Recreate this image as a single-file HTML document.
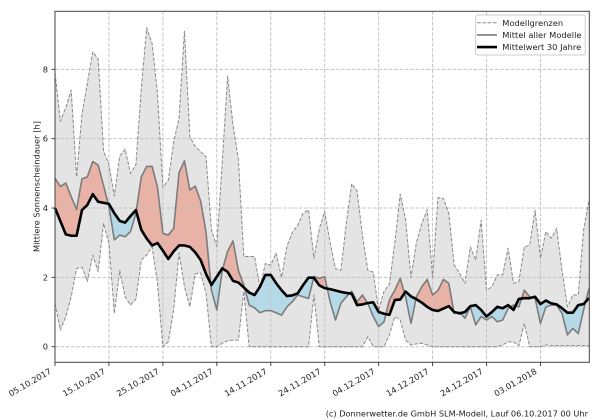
<!DOCTYPE html>
<html><head><meta charset="utf-8"><style>
html,body{margin:0;padding:0;background:#fff;}
svg{display:block;}
text{font-family:"DejaVu Sans","Liberation Sans",sans-serif;fill:#222;}
</style></head><body>
<svg width="600" height="420" viewBox="0 0 600 420" xmlns="http://www.w3.org/2000/svg">
<defs>
<clipPath id="aboveB" clipPathUnits="userSpaceOnUse"><polygon points="0,4.0 1,3.62 2,3.24 3,3.2 4,3.2 5,3.94 6,4.09 7,4.4 8,4.18 9,4.15 10,4.12 11,3.85 12,3.63 13,3.58 14,3.77 15,3.94 16,3.37 17,3.12 18,2.92 19,2.99 20,2.77 21,2.53 22,2.75 23,2.92 24,2.92 25,2.88 26,2.72 27,2.5 28,2.1 29,1.78 30,2.02 31,2.26 32,2.16 33,1.9 34,1.85 35,1.71 36,1.56 37,1.49 38,1.73 39,2.07 40,2.07 41,1.83 42,1.63 43,1.46 44,1.48 45,1.54 46,1.78 47,1.99 48,1.99 49,1.77 50,1.69 51,1.66 52,1.62 53,1.58 54,1.55 55,1.53 56,1.2 57,1.22 58,1.26 59,1.28 60,1.0 61,0.95 62,0.92 63,1.35 64,1.36 65,1.59 66,1.45 67,1.37 68,1.27 69,1.15 70,1.06 71,1.03 72,1.1 73,1.17 74,1.0 75,0.96 76,1.0 77,1.17 78,1.2 79,1.06 80,0.87 81,1.0 82,1.15 83,1.11 84,1.2 85,1.06 86,1.38 87,1.4 88,1.4 89,1.44 90,1.23 91,1.33 92,1.25 93,1.22 94,1.11 95,0.98 96,0.98 97,1.2 98,1.23 99,1.4 99,12 0,12"/></clipPath>
<clipPath id="belowB" clipPathUnits="userSpaceOnUse"><polygon points="0,4.0 1,3.62 2,3.24 3,3.2 4,3.2 5,3.94 6,4.09 7,4.4 8,4.18 9,4.15 10,4.12 11,3.85 12,3.63 13,3.58 14,3.77 15,3.94 16,3.37 17,3.12 18,2.92 19,2.99 20,2.77 21,2.53 22,2.75 23,2.92 24,2.92 25,2.88 26,2.72 27,2.5 28,2.1 29,1.78 30,2.02 31,2.26 32,2.16 33,1.9 34,1.85 35,1.71 36,1.56 37,1.49 38,1.73 39,2.07 40,2.07 41,1.83 42,1.63 43,1.46 44,1.48 45,1.54 46,1.78 47,1.99 48,1.99 49,1.77 50,1.69 51,1.66 52,1.62 53,1.58 54,1.55 55,1.53 56,1.2 57,1.22 58,1.26 59,1.28 60,1.0 61,0.95 62,0.92 63,1.35 64,1.36 65,1.59 66,1.45 67,1.37 68,1.27 69,1.15 70,1.06 71,1.03 72,1.1 73,1.17 74,1.0 75,0.96 76,1.0 77,1.17 78,1.2 79,1.06 80,0.87 81,1.0 82,1.15 83,1.11 84,1.2 85,1.06 86,1.38 87,1.4 88,1.4 89,1.44 90,1.23 91,1.33 92,1.25 93,1.22 94,1.11 95,0.98 96,0.98 97,1.2 98,1.23 99,1.4 99,-2 0,-2"/></clipPath>
</defs>

<g transform="translate(55,346.7) scale(5.394,-34.67)">
<polygon fill="#e4e4e4" stroke="none" points="0,7.9 1,6.5 2,6.9 3,7.4 4,4.9 5,6.7 6,7.6 7,8.5 8,8.3 9,5.65 10,5.25 11,4.35 12,5.5 13,5.7 14,5.0 15,5.25 16,7.45 17,9.2 18,8.75 19,7.3 20,4.6 21,4.8 22,5.9 23,6.6 24,9.1 25,6.06 26,5.77 27,5.63 28,5.48 29,3.37 30,2.9 31,5.3 32,7.8 33,6.4 34,5.4 35,2.6 36,2.6 37,2.6 38,1.7 39,2.4 40,2.35 41,2.7 42,2.0 43,2.9 44,3.3 45,3.5 46,3.85 47,3.95 48,2.55 49,3.4 50,3.9 51,3.0 52,2.25 53,2.2 54,3.55 55,4.7 56,4.5 57,3.2 58,2.2 59,2.15 60,1.05 61,1.6 62,1.8 63,3.0 64,4.4 65,3.65 66,2.0 67,3.0 68,3.55 69,3.95 70,2.0 71,4.3 72,4.28 73,3.85 74,2.36 75,2.12 76,1.83 77,2.88 78,2.5 79,3.65 80,1.63 81,1.73 82,2.07 83,2.07 84,2.84 85,1.83 86,1.88 87,2.88 88,2.93 89,3.94 90,2.55 91,3.32 92,3.13 93,3.41 94,2.2 95,1.15 96,1.49 97,1.49 98,3.37 99,4.23 99,0.03 98,0.03 97,0.03 96,0.03 95,0.03 94,0.03 93,0.03 92,0.03 91,0.05 90,0 89,0 88,0 87,0.67 86,0.03 85,0.14 84,0.14 83,0.05 82,0 81,0 80,0 79,0 78,0 77,0 76,0 75,0 74,0 73,0 72,0 71,0 70,0 69,0.05 68,0.1 67,0.08 66,0.05 65,0.19 64,0.77 63,0.87 62,0.34 61,0 60,0 59,0 58,0.29 57,0 56,0 55,0 54,0 53,0 52,0 51,0 50,0 49,0 48,1.5 47,0 46,0 45,0 44,0 43,0 42,0 41,0 40,0 39,0 38,0 37,0 36,0 35,1.6 34,0.19 33,0.19 32,0.17 31,0.1 30,0 29,0 28,1.54 27,2.13 26,2.1 25,1.15 24,1.73 23,2.7 22,1.06 21,0.14 20,0 19,1.83 18,2.88 17,2.64 16,2.5 15,1.37 14,1.2 13,1.44 12,2.2 11,0.96 10,2.98 9,3.56 8,2.16 7,2.64 6,1.88 5,2.29 4,2.26 3,1.44 2,0.87 1,0.48 0,1.25"/>
<polygon fill="#e8b2a6" clip-path="url(#aboveB)" points="0,4.86 1,4.62 2,4.72 3,4.33 4,3.96 5,4.84 6,4.9 7,5.34 8,5.24 9,4.65 10,4.04 11,3.08 12,3.22 13,3.17 14,3.32 15,3.85 16,4.9 17,5.2 18,5.2 19,4.6 20,3.27 21,3.22 22,3.41 23,5.02 24,5.36 25,4.52 26,4.63 27,4.2 28,3.3 29,1.63 30,1.06 31,2.2 32,2.75 33,3.05 34,2.2 35,1.78 36,1.2 37,1.12 38,0.98 39,1.04 40,1.04 41,0.98 42,0.91 43,1.15 44,1.3 45,1.49 46,1.44 47,1.39 48,2.02 49,1.97 50,2.02 51,1.3 52,0.77 53,1.25 54,1.44 55,1.6 56,1.3 57,1.49 58,1.25 59,0.87 60,0.58 61,0.72 62,1.35 63,1.63 64,1.97 65,1.44 66,0.67 67,1.44 68,1.73 69,1.94 70,1.49 71,1.62 72,1.94 73,1.83 74,0.96 75,1.0 76,0.82 77,1.15 78,0.63 79,0.87 80,0.77 81,0.87 82,0.72 83,0.77 84,1.1 85,1.2 86,1.15 87,1.63 88,1.44 89,1.4 90,0.67 91,1.15 92,1.2 93,1.2 94,0.96 95,0.34 96,0.53 97,0.38 98,1.06 99,1.68 99,-2 0,-2"/>
<polygon fill="#b6d9e8" clip-path="url(#belowB)" points="0,4.86 1,4.62 2,4.72 3,4.33 4,3.96 5,4.84 6,4.9 7,5.34 8,5.24 9,4.65 10,4.04 11,3.08 12,3.22 13,3.17 14,3.32 15,3.85 16,4.9 17,5.2 18,5.2 19,4.6 20,3.27 21,3.22 22,3.41 23,5.02 24,5.36 25,4.52 26,4.63 27,4.2 28,3.3 29,1.63 30,1.06 31,2.2 32,2.75 33,3.05 34,2.2 35,1.78 36,1.2 37,1.12 38,0.98 39,1.04 40,1.04 41,0.98 42,0.91 43,1.15 44,1.3 45,1.49 46,1.44 47,1.39 48,2.02 49,1.97 50,2.02 51,1.3 52,0.77 53,1.25 54,1.44 55,1.6 56,1.3 57,1.49 58,1.25 59,0.87 60,0.58 61,0.72 62,1.35 63,1.63 64,1.97 65,1.44 66,0.67 67,1.44 68,1.73 69,1.94 70,1.49 71,1.62 72,1.94 73,1.83 74,0.96 75,1.0 76,0.82 77,1.15 78,0.63 79,0.87 80,0.77 81,0.87 82,0.72 83,0.77 84,1.1 85,1.2 86,1.15 87,1.63 88,1.44 89,1.4 90,0.67 91,1.15 92,1.2 93,1.2 94,0.96 95,0.34 96,0.53 97,0.38 98,1.06 99,1.68 99,12 0,12"/>
</g>

<g stroke="#c4c4c4" stroke-width="1" stroke-dasharray="3.7,1.6" fill="none">
<line x1="108.94" y1="11" x2="108.94" y2="362"/>
<line x1="162.88" y1="11" x2="162.88" y2="362"/>
<line x1="216.82" y1="11" x2="216.82" y2="362"/>
<line x1="270.76" y1="11" x2="270.76" y2="362"/>
<line x1="324.7" y1="11" x2="324.7" y2="362"/>
<line x1="378.64" y1="11" x2="378.64" y2="362"/>
<line x1="432.58" y1="11" x2="432.58" y2="362"/>
<line x1="486.52" y1="11" x2="486.52" y2="362"/>
<line x1="540.46" y1="11" x2="540.46" y2="362"/>
<line x1="55" y1="346.7" x2="589" y2="346.7"/>
<line x1="55" y1="277.36" x2="589" y2="277.36"/>
<line x1="55" y1="208.02" x2="589" y2="208.02"/>
<line x1="55" y1="138.68" x2="589" y2="138.68"/>
<line x1="55" y1="69.34" x2="589" y2="69.34"/>
</g>

<g transform="translate(55,346.7) scale(5.394,-34.67)" fill="none" stroke-linejoin="round">
<polyline vector-effect="non-scaling-stroke" stroke="#8a8a8a" stroke-width="1" stroke-dasharray="3.7,1.6" points="0,7.9 1,6.5 2,6.9 3,7.4 4,4.9 5,6.7 6,7.6 7,8.5 8,8.3 9,5.65 10,5.25 11,4.35 12,5.5 13,5.7 14,5.0 15,5.25 16,7.45 17,9.2 18,8.75 19,7.3 20,4.6 21,4.8 22,5.9 23,6.6 24,9.1 25,6.06 26,5.77 27,5.63 28,5.48 29,3.37 30,2.9 31,5.3 32,7.8 33,6.4 34,5.4 35,2.6 36,2.6 37,2.6 38,1.7 39,2.4 40,2.35 41,2.7 42,2.0 43,2.9 44,3.3 45,3.5 46,3.85 47,3.95 48,2.55 49,3.4 50,3.9 51,3.0 52,2.25 53,2.2 54,3.55 55,4.7 56,4.5 57,3.2 58,2.2 59,2.15 60,1.05 61,1.6 62,1.8 63,3.0 64,4.4 65,3.65 66,2.0 67,3.0 68,3.55 69,3.95 70,2.0 71,4.3 72,4.28 73,3.85 74,2.36 75,2.12 76,1.83 77,2.88 78,2.5 79,3.65 80,1.63 81,1.73 82,2.07 83,2.07 84,2.84 85,1.83 86,1.88 87,2.88 88,2.93 89,3.94 90,2.55 91,3.32 92,3.13 93,3.41 94,2.2 95,1.15 96,1.49 97,1.49 98,3.37 99,4.23"/>
<polyline vector-effect="non-scaling-stroke" stroke="#8a8a8a" stroke-width="1" stroke-dasharray="3.7,1.6" points="0,1.25 1,0.48 2,0.87 3,1.44 4,2.26 5,2.29 6,1.88 7,2.64 8,2.16 9,3.56 10,2.98 11,0.96 12,2.2 13,1.44 14,1.2 15,1.37 16,2.5 17,2.64 18,2.88 19,1.83 20,0 21,0.14 22,1.06 23,2.7 24,1.73 25,1.15 26,2.1 27,2.13 28,1.54 29,0 30,0 31,0.1 32,0.17 33,0.19 34,0.19 35,1.6 36,0 37,0 38,0 39,0 40,0 41,0 42,0 43,0 44,0 45,0 46,0 47,0 48,1.5 49,0 50,0 51,0 52,0 53,0 54,0 55,0 56,0 57,0 58,0.29 59,0 60,0 61,0 62,0.34 63,0.87 64,0.77 65,0.19 66,0.05 67,0.08 68,0.1 69,0.05 70,0 71,0 72,0 73,0 74,0 75,0 76,0 77,0 78,0 79,0 80,0 81,0 82,0 83,0.05 84,0.14 85,0.14 86,0.03 87,0.67 88,0 89,0 90,0 91,0.05 92,0.03 93,0.03 94,0.03 95,0.03 96,0.03 97,0.03 98,0.03 99,0.03"/>
<polyline vector-effect="non-scaling-stroke" stroke="#7c7c7c" stroke-width="1.6" points="0,4.86 1,4.62 2,4.72 3,4.33 4,3.96 5,4.84 6,4.9 7,5.34 8,5.24 9,4.65 10,4.04 11,3.08 12,3.22 13,3.17 14,3.32 15,3.85 16,4.9 17,5.2 18,5.2 19,4.6 20,3.27 21,3.22 22,3.41 23,5.02 24,5.36 25,4.52 26,4.63 27,4.2 28,3.3 29,1.63 30,1.06 31,2.2 32,2.75 33,3.05 34,2.2 35,1.78 36,1.2 37,1.12 38,0.98 39,1.04 40,1.04 41,0.98 42,0.91 43,1.15 44,1.3 45,1.49 46,1.44 47,1.39 48,2.02 49,1.97 50,2.02 51,1.3 52,0.77 53,1.25 54,1.44 55,1.6 56,1.3 57,1.49 58,1.25 59,0.87 60,0.58 61,0.72 62,1.35 63,1.63 64,1.97 65,1.44 66,0.67 67,1.44 68,1.73 69,1.94 70,1.49 71,1.62 72,1.94 73,1.83 74,0.96 75,1.0 76,0.82 77,1.15 78,0.63 79,0.87 80,0.77 81,0.87 82,0.72 83,0.77 84,1.1 85,1.2 86,1.15 87,1.63 88,1.44 89,1.4 90,0.67 91,1.15 92,1.2 93,1.2 94,0.96 95,0.34 96,0.53 97,0.38 98,1.06 99,1.68"/>
<polyline vector-effect="non-scaling-stroke" stroke="#000" stroke-width="2.6" points="0,4.0 1,3.62 2,3.24 3,3.2 4,3.2 5,3.94 6,4.09 7,4.4 8,4.18 9,4.15 10,4.12 11,3.85 12,3.63 13,3.58 14,3.77 15,3.94 16,3.37 17,3.12 18,2.92 19,2.99 20,2.77 21,2.53 22,2.75 23,2.92 24,2.92 25,2.88 26,2.72 27,2.5 28,2.1 29,1.78 30,2.02 31,2.26 32,2.16 33,1.9 34,1.85 35,1.71 36,1.56 37,1.49 38,1.73 39,2.07 40,2.07 41,1.83 42,1.63 43,1.46 44,1.48 45,1.54 46,1.78 47,1.99 48,1.99 49,1.77 50,1.69 51,1.66 52,1.62 53,1.58 54,1.55 55,1.53 56,1.2 57,1.22 58,1.26 59,1.28 60,1.0 61,0.95 62,0.92 63,1.35 64,1.36 65,1.59 66,1.45 67,1.37 68,1.27 69,1.15 70,1.06 71,1.03 72,1.1 73,1.17 74,1.0 75,0.96 76,1.0 77,1.17 78,1.2 79,1.06 80,0.87 81,1.0 82,1.15 83,1.11 84,1.2 85,1.06 86,1.38 87,1.4 88,1.4 89,1.44 90,1.23 91,1.33 92,1.25 93,1.22 94,1.11 95,0.98 96,0.98 97,1.2 98,1.23 99,1.4"/>
</g>

<rect x="55" y="11.3" width="534.3" height="351" fill="none" stroke="#444" stroke-width="1"/>

<g stroke="#444" stroke-width="1">
<line x1="51.5" y1="346.7" x2="55" y2="346.7"/>
<line x1="51.5" y1="277.36" x2="55" y2="277.36"/>
<line x1="51.5" y1="208.02" x2="55" y2="208.02"/>
<line x1="51.5" y1="138.68" x2="55" y2="138.68"/>
<line x1="51.5" y1="69.34" x2="55" y2="69.34"/>
<line x1="55" y1="362.3" x2="55" y2="366"/>
<line x1="108.94" y1="362.3" x2="108.94" y2="366"/>
<line x1="162.88" y1="362.3" x2="162.88" y2="366"/>
<line x1="216.82" y1="362.3" x2="216.82" y2="366"/>
<line x1="270.76" y1="362.3" x2="270.76" y2="366"/>
<line x1="324.7" y1="362.3" x2="324.7" y2="366"/>
<line x1="378.64" y1="362.3" x2="378.64" y2="366"/>
<line x1="432.58" y1="362.3" x2="432.58" y2="366"/>
<line x1="486.52" y1="362.3" x2="486.52" y2="366"/>
<line x1="540.46" y1="362.3" x2="540.46" y2="366"/>
</g>

<g font-size="8.3" text-anchor="end">
<text x="48" y="349.7">0</text>
<text x="48" y="280.4">2</text>
<text x="48" y="211">4</text>
<text x="48" y="141.7">6</text>
<text x="48" y="72.3">8</text>
</g>

<g font-size="8.3" text-anchor="end">
<text transform="translate(52,373) rotate(-30)">05.10.2017</text>
<text transform="translate(105.94,373) rotate(-30)">15.10.2017</text>
<text transform="translate(159.88,373) rotate(-30)">25.10.2017</text>
<text transform="translate(213.82,373) rotate(-30)">04.11.2017</text>
<text transform="translate(267.76,373) rotate(-30)">14.11.2017</text>
<text transform="translate(321.7,373) rotate(-30)">24.11.2017</text>
<text transform="translate(375.64,373) rotate(-30)">04.12.2017</text>
<text transform="translate(429.58,373) rotate(-30)">14.12.2017</text>
<text transform="translate(483.52,373) rotate(-30)">24.12.2017</text>
<text transform="translate(537.46,373) rotate(-30)">03.01.2018</text>
</g>

<text font-size="8.3" text-anchor="middle" transform="translate(39.5,186.5) rotate(-90)">Mittlere Sonnenscheindauer [h]</text>

<rect x="475.7" y="15" width="109.6" height="40" rx="2" ry="2" fill="#fff" fill-opacity="0.9" stroke="#cccccc" stroke-width="1"/>
<line x1="477" y1="22.7" x2="497" y2="22.7" stroke="#8a8a8a" stroke-width="1" stroke-dasharray="3.7,1.6"/>
<line x1="477" y1="34.9" x2="497" y2="34.9" stroke="#7c7c7c" stroke-width="1.6"/>
<line x1="477" y1="47.1" x2="497" y2="47.1" stroke="#000" stroke-width="2.6"/>
<g font-size="8.3">
<text x="502.3" y="25.8">Modellgrenzen</text>
<text x="502.3" y="38">Mittel aller Modelle</text>
<text x="502.3" y="50.2">Mittelwert 30 Jahre</text>
</g>

<text x="588" y="416.5" font-size="8.2" text-anchor="end">(c) Donnerwetter.de GmbH SLM-Modell, Lauf 06.10.2017 00 Uhr</text>
</svg>
</body></html>
